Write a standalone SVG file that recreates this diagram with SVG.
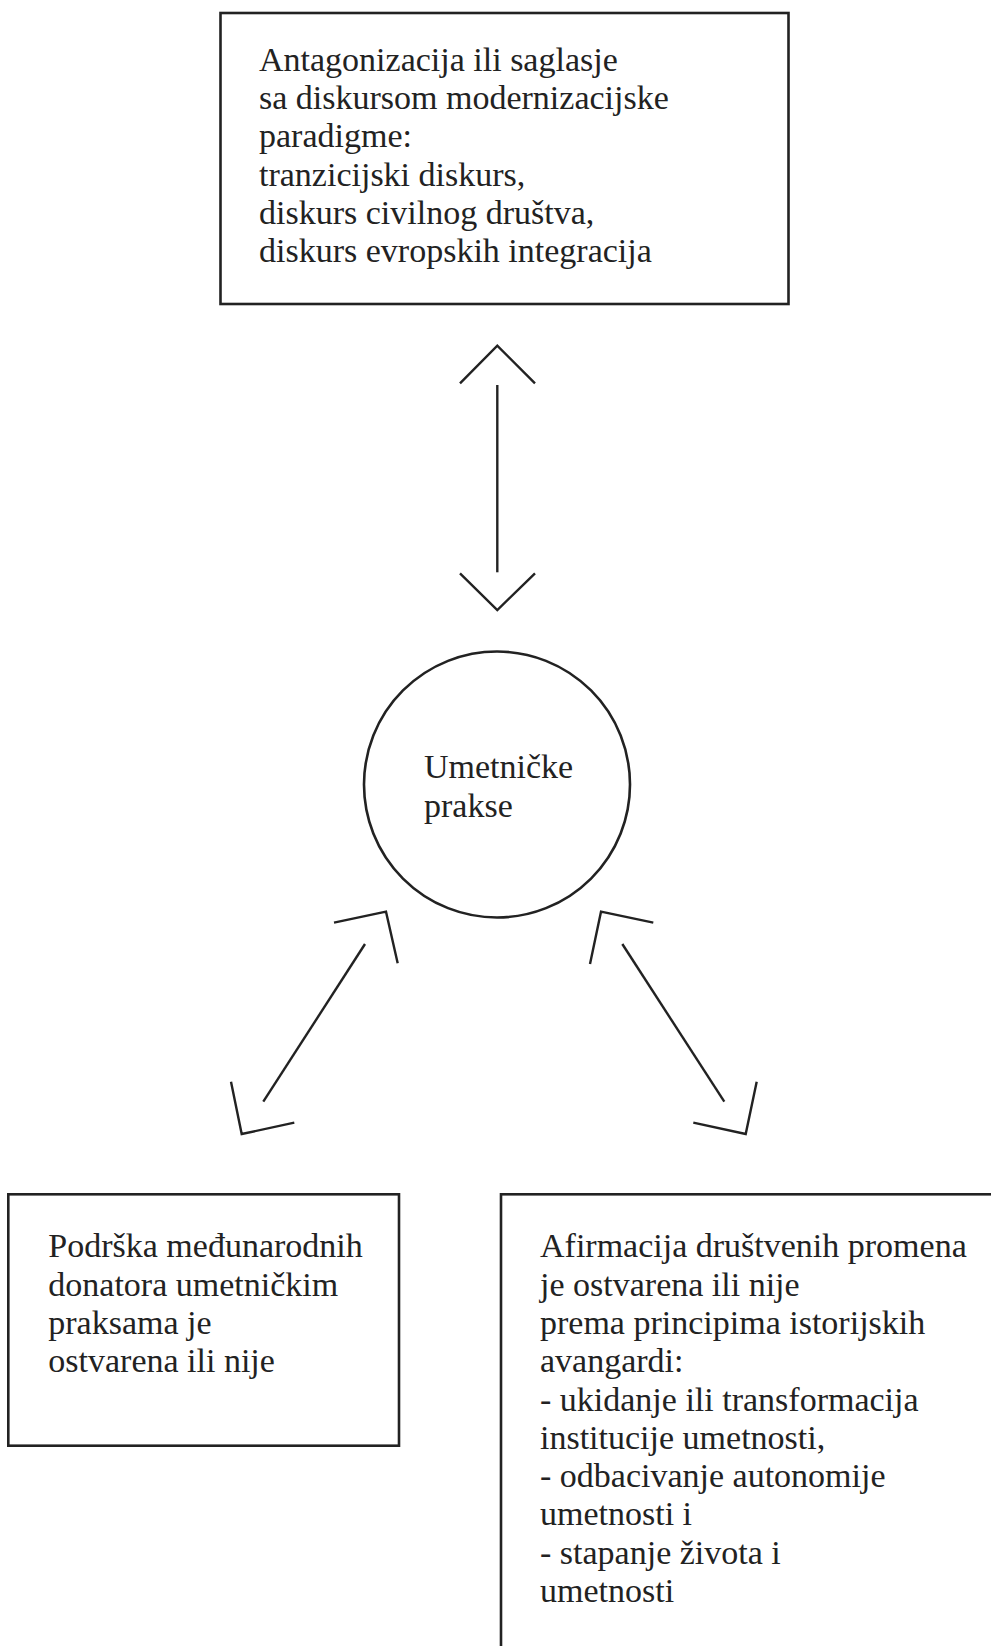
<svg xmlns="http://www.w3.org/2000/svg" width="991" height="1646" viewBox="0 0 991 1646">
<style>
.box{fill:#fff;stroke:#222;stroke-width:2.6}
.ln{fill:none;stroke:#222;stroke-width:2.4;stroke-linecap:butt;stroke-linejoin:miter}
.t{font-family:"Liberation Serif","DejaVu Serif",serif;font-size:34px;fill:#222}
</style>
<rect width="991" height="1646" fill="#fff"/>
<g id="connectors">
<g id="arrow-top">
<polyline class="ln" points="460,383.3 497.3,345.7 535,383.3"/>
<line class="ln" x1="497.3" y1="385" x2="497.3" y2="572.3"/>
<polyline class="ln" points="460,573.3 497.3,610 535,573.3"/>
</g>
<g id="arrow-left">
<polyline class="ln" points="334,922.7 386,911.7 397.7,963.3"/>
<line class="ln" x1="365" y1="944" x2="263.3" y2="1101.7"/>
<polyline class="ln" points="231,1081.7 241.7,1134 294.3,1122.7"/>
</g>
<g id="arrow-right">
<polyline class="ln" points="590,964 601,911.7 653.3,922.7"/>
<line class="ln" x1="622.3" y1="944" x2="724.3" y2="1101.7"/>
<polyline class="ln" points="756.7,1081.7 745.7,1134 693.3,1122.7"/>
</g>
</g>
<g id="node-top">
<rect class="box" x="220.5" y="13" width="568" height="291"/>
<text class="t" x="259" y="71">Antagonizacija ili saglasje</text>
<text class="t" x="259" y="109.2">sa diskursom modernizacijske</text>
<text class="t" x="259" y="147.4">paradigme:</text>
<text class="t" x="259" y="185.6">tranzicijski diskurs,</text>
<text class="t" x="259" y="223.8">diskurs civilnog društva,</text>
<text class="t" x="259" y="262">diskurs evropskih integracija</text>
</g>
<g id="node-center">
<circle class="box" cx="497" cy="784.5" r="133"/>
<text class="t" x="424" y="778.3">Umetničke</text>
<text class="t" x="424" y="816.7">prakse</text>
</g>
<g id="node-left">
<rect class="box" x="8.3" y="1194.3" width="390.7" height="251.4"/>
<text class="t" x="48.3" y="1257.3">Podrška međunarodnih</text>
<text class="t" x="48.3" y="1295.5">donatora umetničkim</text>
<text class="t" x="48.3" y="1333.7">praksama je</text>
<text class="t" x="48.3" y="1371.9">ostvarena ili nije</text>
</g>
<g id="node-right">
<rect class="box" x="501" y="1194.3" width="496" height="462"/>
<text class="t" x="540" y="1257.3">Afirmacija društvenih promena</text>
<text class="t" x="540" y="1295.6">je ostvarena ili nije</text>
<text class="t" x="540" y="1333.9">prema principima istorijskih</text>
<text class="t" x="540" y="1372.2">avangardi:</text>
<text class="t" x="540" y="1410.5">- ukidanje ili transformacija</text>
<text class="t" x="540" y="1448.8">institucije umetnosti,</text>
<text class="t" x="540" y="1487.1">- odbacivanje autonomije</text>
<text class="t" x="540" y="1525.4">umetnosti i</text>
<text class="t" x="540" y="1563.7">- stapanje života i</text>
<text class="t" x="540" y="1602">umetnosti</text>
</g>
</svg>
